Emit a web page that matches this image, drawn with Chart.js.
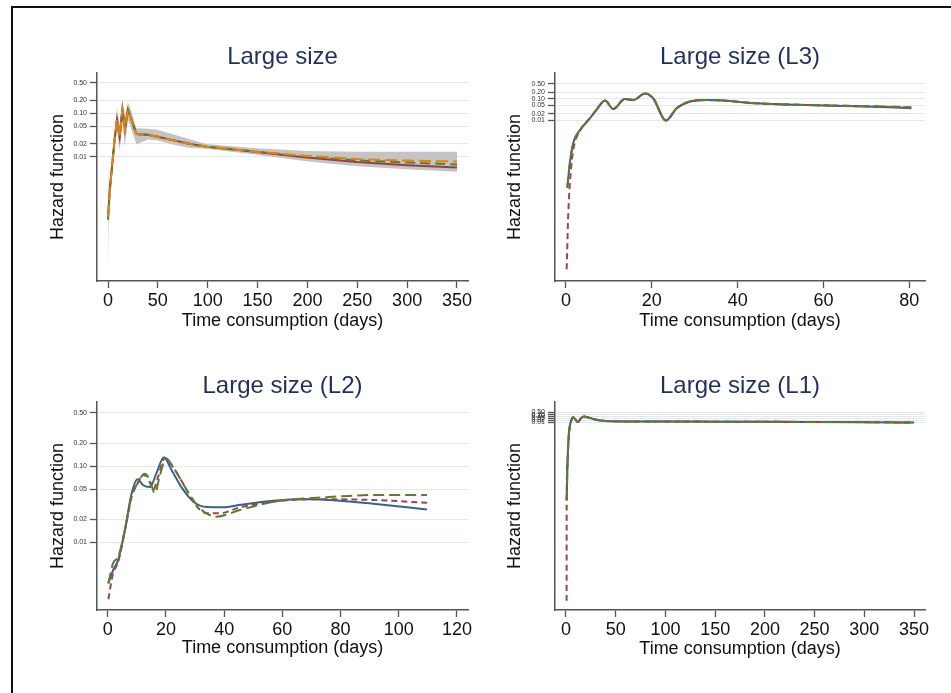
<!DOCTYPE html>
<html>
<head>
<meta charset="utf-8">
<script src="https://cdn.jsdelivr.net/npm/chart.js@4.4.1/dist/chart.umd.min.js"></script>
<style>
  html, body { margin: 0; padding: 0; background: #fff; }
  body { width: 951px; height: 693px; position: relative; overflow: hidden; }
  .frame { position: absolute; left: 11px; top: 6px; width: 1000px; height: 800px;
           border-top: 2px solid #111; border-left: 2px solid #111; }
  canvas { position: absolute; }
</style>
</head>
<body>
<div class="frame"></div>
<canvas id="c1" width="440" height="310" style="left:40px;top:30px"></canvas>
<canvas id="c2" width="450" height="310" style="left:490px;top:30px"></canvas>
<canvas id="c3" width="440" height="310" style="left:40px;top:360px"></canvas>
<canvas id="c4" width="450" height="310" style="left:490px;top:360px"></canvas>
<script>
Chart.defaults.font.family = '"Liberation Sans", Arial, sans-serif';

const yTicks = [0.01, 0.02, 0.05, 0.10, 0.20, 0.50];
const xTicks350 = [0, 50, 100, 150, 200, 250, 300, 350];
const xTicks80 = [0, 20, 40, 60, 80];
const xTicks120 = [0, 20, 40, 60, 80, 100, 120];

// Large size (pooled) with confidence band
const allDays   = [0, 1.7, 5, 6.5, 9, 11.7, 14.4, 17, 20, 23, 28.5, 40, 48.6, 65, 80, 99, 149, 199, 249.5, 300, 350];
const allOrange = [4.1e-4, 1.7e-3, 0.010, 0.024, 0.072, 0.028, 0.122, 0.043, 0.120, 0.077, 0.033, 0.032, 0.029, 0.024, 0.020, 0.017, 0.0130, 0.0104, 0.0088, 0.0081, 0.0077];
const allGreen  = [3.5e-4, 1.6e-3, 0.010, 0.024, 0.070, 0.028, 0.120, 0.043, 0.118, 0.077, 0.033, 0.032, 0.029, 0.024, 0.020, 0.017, 0.0130, 0.0100, 0.0082, 0.0073, 0.0066];
const allMaroon = [3.8e-4, 1.7e-3, 0.010, 0.024, 0.071, 0.028, 0.121, 0.043, 0.119, 0.077, 0.033, 0.032, 0.029, 0.024, 0.020, 0.017, 0.0128, 0.0095, 0.0075, 0.0063, 0.0056];
const ciDays  = [0, 0.5, 1.7, 5, 6.5, 9, 11.7, 14.4, 17, 20, 23, 28.5, 40, 48.6, 65, 80, 99, 149, 199, 249.5, 300, 350];
const ciUpper = [0.010, 0.0012, 0.0024, 0.013, 0.034, 0.13, 0.055, 0.20, 0.09, 0.18, 0.12, 0.045, 0.044, 0.042, 0.033, 0.026, 0.0195, 0.0155, 0.0135, 0.013, 0.013, 0.013];
const ciLower = [2.4e-5, 3e-4, 1.2e-3, 0.0075, 0.017, 0.040, 0.014, 0.060, 0.017, 0.070, 0.045, 0.019, 0.025, 0.024, 0.019, 0.016, 0.0152, 0.011, 0.0078, 0.0060, 0.0051, 0.0045];

// Large size (L3)
const l3Days    = [0.3, 0.9, 1.7, 3.3, 5.6, 7.1, 9.1, 11, 13.7, 15.7, 18.4, 20.3, 23.3, 25.8, 28.9, 32.8, 36.7, 44.4, 60, 70, 80.5];
const l3Blue    = [7.8e-6, 1.1e-4, 9.1e-4, 3.7e-3, 0.0128, 0.031, 0.083, 0.034, 0.097, 0.089, 0.175, 0.106, 0.0100, 0.037, 0.075, 0.089, 0.083, 0.062, 0.049, 0.044, 0.037];
const l3Green   = [7.8e-6, 1.1e-4, 9.1e-4, 3.7e-3, 0.0128, 0.031, 0.083, 0.034, 0.097, 0.089, 0.175, 0.106, 0.0100, 0.037, 0.075, 0.089, 0.083, 0.062, 0.050, 0.046, 0.041];
const l3RedDays = [0.16, 0.54, 1.09, 1.7, 3.3, 5.6, 7.1, 9.1, 11, 13.7, 15.7, 18.4, 20.3, 23.3, 25.8, 28.9, 32.8, 36.7, 44.4, 60, 70, 80.5];
const l3Red     = [1.4e-9, 5.5e-7, 3.8e-5, 4.5e-4, 3.5e-3, 0.0128, 0.031, 0.083, 0.034, 0.097, 0.089, 0.175, 0.106, 0.0100, 0.037, 0.075, 0.089, 0.083, 0.062, 0.050, 0.045, 0.040];

// Large size (L2)
const l2BlueDays  = [0.2, 1.8, 3.6, 5.9, 8.1, 10.2, 12.2, 14.5, 16.7, 19.3, 21.9, 25.9, 29.9, 34, 39.7, 45.4, 56.9, 68.4, 79.8, 91.3, 109.7];
const l2Blue      = [0.0029, 0.0043, 0.0059, 0.0145, 0.042, 0.067, 0.056, 0.053, 0.080, 0.130, 0.089, 0.049, 0.033, 0.029, 0.0288, 0.031, 0.035, 0.0366, 0.035, 0.032, 0.027];
const l2RedDays   = [0.2, 1.8, 3.6, 5.9, 8.1, 10.2, 12.2, 13.5, 15.6, 17.3, 19.6, 21.9, 25.9, 29.9, 34, 38.5, 45.4, 56.9, 68.4, 79.8, 91.3, 109.7];
const l2Red       = [0.0018, 0.0039, 0.0056, 0.0145, 0.038, 0.059, 0.076, 0.074, 0.049, 0.072, 0.126, 0.103, 0.059, 0.032, 0.024, 0.024, 0.0287, 0.034, 0.0366, 0.0366, 0.0359, 0.033];
const l2GreenDays = [0.2, 1.8, 3.6, 5.9, 8.1, 10.2, 12.7, 14.4, 16.2, 17.8, 20, 22.4, 27.1, 31.7, 37.4, 45.4, 56.9, 68.4, 79.8, 91.3, 109.7];
const l2Green     = [0.0029, 0.0053, 0.0065, 0.0145, 0.040, 0.059, 0.079, 0.066, 0.044, 0.072, 0.126, 0.098, 0.049, 0.0279, 0.0217, 0.0265, 0.034, 0.0377, 0.040, 0.0417, 0.0417];

// Large size (L1)
const l1Days    = [0.7, 1.5, 2.3, 3, 4, 5.5, 7, 9.5, 12, 15, 18, 23, 28, 35, 45, 100, 200, 300, 350];
const l1Blue    = [6e-16, 1e-9, 2.5e-6, 1.6e-4, 3.2e-3, 0.025, 0.070, 0.030, 0.011, 0.050, 0.100, 0.060, 0.034, 0.020, 0.015, 0.0135, 0.0120, 0.0105, 0.0089];
const l1Green   = [6e-16, 1e-9, 2.5e-6, 1.6e-4, 3.2e-3, 0.025, 0.070, 0.030, 0.011, 0.050, 0.100, 0.060, 0.034, 0.020, 0.015, 0.0135, 0.0122, 0.0108, 0.0092];
const l1RedDays = [0.6, 0.7, 1.5, 2.3, 3, 4, 5.5, 7, 9.5, 12, 15, 18, 23, 28, 35, 45, 100, 200, 300, 350];
const l1Red     = [6e-33, 6e-16, 1e-9, 2.5e-6, 1.6e-4, 3.2e-3, 0.025, 0.070, 0.030, 0.011, 0.050, 0.100, 0.060, 0.034, 0.020, 0.015, 0.0135, 0.0121, 0.0106, 0.0090];

const BLUE = '#35628f', RED = '#a0424a', GREEN = '#5a7d32', ORANGE = '#e38210', MAROON = '#9b3d44', BAND = '#c4c4c4';

function line(xs, ys, color, dash, smooth) {
  return {
    data: xs.map((x, i) => ({ x: x, y: ys[i] })),
    borderColor: color,
    borderDash: dash || [],
    borderWidth: 2,
    pointRadius: 0,
    fill: false,
    tension: smooth ? 0.4 : 0,
    cubicInterpolationMode: smooth ? 'monotone' : 'default'
  };
}

const panelTitle = {
  id: 'panelTitle',
  afterDraw(chart, args, opts) {
    const { ctx, chartArea } = chart;
    ctx.save();
    ctx.font = '24px "Liberation Sans", Arial, sans-serif';
    ctx.fillStyle = '#1f2f5f';
    ctx.textAlign = 'center';
    ctx.textBaseline = 'alphabetic';
    ctx.fillText(opts.text, (chartArea.left + chartArea.right) / 2, chartArea.top - 9);
    ctx.restore();
  }
};

function makePanel(id, p) {
  new Chart(document.getElementById(id), {
    type: 'line',
    data: { datasets: p.datasets },
    plugins: [panelTitle],
    options: {
      responsive: false,
      animation: false,
      layout: { padding: { left: 0, top: p.top, right: p.right, bottom: 0 } },
      plugins: {
        legend: { display: false },
        tooltip: { enabled: false },
        panelTitle: { text: p.title }
      },
      scales: {
        x: {
          type: 'linear',
          min: p.xMin, max: p.xMax,
          afterBuildTicks: s => { s.ticks = p.xTicks.map(v => ({ value: v })); },
          afterFit: s => { s.height = p.xh; },
          grid: { drawOnChartArea: false, tickLength: 7, tickColor: '#555', tickWidth: 1.3 },
          border: { color: '#555', width: 1.5 },
          ticks: { autoSkip: false, maxRotation: 0, padding: 2, color: '#111', font: { size: 18 } },
          title: { display: true, text: 'Time consumption (days)', color: '#111',
                   font: { size: 18, lineHeight: 1.2 }, padding: { top: 0, bottom: p.xtb } }
        },
        y: {
          type: 'logarithmic',
          min: p.yMin, max: p.yMax,
          afterBuildTicks: s => { s.ticks = yTicks.map(v => ({ value: v })); },
          afterFit: s => { s.width = p.yw; },
          grid: { color: '#e0eaee', lineWidth: 1, tickLength: 7, tickColor: '#555', tickWidth: 1.3 },
          border: { color: '#555', width: 1.5 },
          ticks: { autoSkip: false, padding: 3, color: '#333', font: { size: 7 }, callback: v => Number(v).toFixed(2) },
          title: { display: true, text: 'Hazard function', color: '#111',
                   font: { size: 18, lineHeight: 1.2 }, padding: { top: p.ytp, bottom: 0 } }
        }
      }
    }
  });
}

const upper = line(ciDays, ciUpper, 'rgba(0,0,0,0)');
upper.fill = '+1';
upper.backgroundColor = BAND;
const lower = line(ciDays, ciLower, 'rgba(0,0,0,0)');

makePanel('c1', {
  title: 'Large size',
  datasets: [
    line(allDays, allOrange, ORANGE, [12, 5]),
    line(allDays, allGreen, GREEN, [10, 5]),
    line(allDays, allMaroon, MAROON),
    upper, lower
  ],
  xTicks: xTicks350, xMin: -11.05, xMax: 361.05,
  yMin: 1.35e-5, yMax: 0.85,
  top: 43, right: 12, xh: 59, yw: 57, xtb: 8.5, ytp: 7
});

makePanel('c2', {
  title: 'Large size (L3)',
  datasets: [
    line(l3Days, l3Green, GREEN, [11, 5], true),
    line(l3RedDays, l3Red, RED, [6, 4], true),
    line(l3Days, l3Blue, BLUE, [], true)
  ],
  xTicks: xTicks80, xMin: -2.56, xMax: 83.66,
  yMin: 4e-10, yMax: 1.55,
  top: 43, right: 15, xh: 59, yw: 65, xtb: 8.5, ytp: 14
});

makePanel('c3', {
  title: 'Large size (L2)',
  datasets: [
    line(l2GreenDays, l2Green, GREEN, [11, 5], true),
    line(l2RedDays, l2Red, RED, [6, 4], true),
    line(l2BlueDays, l2Blue, BLUE, [], true)
  ],
  xTicks: xTicks120, xMin: -3.7, xMax: 123.8,
  yMin: 0.0013, yMax: 0.69,
  top: 42, right: 12, xh: 60, yw: 57, xtb: 10.9, ytp: 7
});

makePanel('c4', {
  title: 'Large size (L1)',
  datasets: [
    line(l1Days, l1Green, GREEN, [11, 5], true),
    line(l1RedDays, l1Red, RED, [6, 4], true),
    line(l1Days, l1Blue, BLUE, [], true)
  ],
  xTicks: xTicks350, xMin: -11.06, xMax: 361,
  yMin: 1.6e-34, yMax: 27.5,
  top: 42, right: 15, xh: 60, yw: 65, xtb: 9.9, ytp: 14
});
</script>
</body>
</html>
